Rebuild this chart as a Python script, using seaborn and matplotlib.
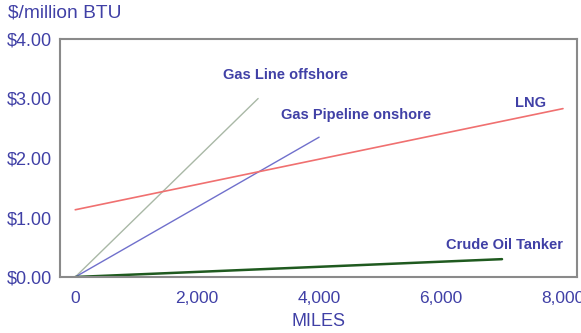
import matplotlib
matplotlib.use("Agg")
import matplotlib.pyplot as plt
import seaborn as sns
import pandas as pd
from matplotlib.ticker import MultipleLocator, FuncFormatter

sns.set_style("white")
plt.rcParams["font.family"] = ["Liberation Sans", "DejaVu Sans"]

# Transport cost vs. distance, endpoints of each straight-line series
series_names = ["Gas Line offshore", "Gas Pipeline onshore", "LNG", "Crude Oil Tanker"]
miles = {
    "Gas Line offshore": [0, 3000],
    "Gas Pipeline onshore": [0, 4000],
    "LNG": [0, 8000],
    "Crude Oil Tanker": [0, 7000],
}
cost = {
    "Gas Line offshore": [0.0, 3.00],
    "Gas Pipeline onshore": [0.0, 2.35],
    "LNG": [1.13, 2.83],
    "Crude Oil Tanker": [0.0, 0.30],
}
x_ticks = [0, 2000, 4000, 6000, 8000]
y_ticks = [0, 1, 2, 3, 4]

colors = {
    "Gas Line offshore": "#a9b8a6",
    "Gas Pipeline onshore": "#7070cc",
    "LNG": "#f07070",
    "Crude Oil Tanker": "#1f5a1f",
}
widths = {
    "Gas Line offshore": 1.0,
    "Gas Pipeline onshore": 1.0,
    "LNG": 1.2,
    "Crude Oil Tanker": 1.8,
}
text_color = "#4040a6"

rows = []
for name in series_names:
    for xv, yv in zip(miles[name], cost[name]):
        rows.append({"series": name, "miles": xv, "cost": yv})
df = pd.DataFrame(rows)

fig = plt.figure(figsize=(5.81, 3.33), dpi=100)
ax = fig.add_axes([60 / 581, 1 - 277 / 333, 517 / 581, 238 / 333])

for name in series_names:
    sns.lineplot(data=df[df.series == name], x="miles", y="cost",
                 color=colors[name], linewidth=widths[name], ax=ax,
                 legend=False, estimator=None)

ax.set_xlim(-250, 8230)
ax.set_ylim(0, 4)
ax.set_xticks(x_ticks)
ax.set_yticks(y_ticks)
ax.yaxis.set_minor_locator(MultipleLocator(0.5))
ax.xaxis.set_major_formatter(FuncFormatter(lambda v, p: f"{int(v):,}"))
ax.yaxis.set_major_formatter(FuncFormatter(lambda v, p: f"${v:.2f}"))
ax.tick_params(axis="y", which="major", direction="in", length=6, width=1,
               color="#808080", labelsize=13, labelcolor=text_color, pad=6)
ax.tick_params(axis="y", which="minor", direction="in", length=3, width=1,
               color="#808080")
ax.tick_params(axis="x", length=0, labelsize=12.5, labelcolor=text_color, pad=10)
for sp in ax.spines.values():
    sp.set_color("#8a8a8a")
    sp.set_linewidth(1.5)

ax.set_xlabel("MILES", fontsize=13, color=text_color, labelpad=5)
ax.set_ylabel("")
fig.text(8 / 581, 1 - 13 / 333, "$/million BTU", fontsize=13.8,
         color=text_color, va="center", ha="left")

label_pos = {
    "Gas Line offshore": (2420, 3.40),
    "Gas Pipeline onshore": (3380, 2.72),
    "LNG": (7220, 2.92),
    "Crude Oil Tanker": (6085, 0.54),
}
for name in series_names:
    lx, ly = label_pos[name]
    ax.text(lx, ly, name, fontsize=10.5, fontweight="bold", color=text_color,
            ha="left", va="center")

fig.savefig("out.png", dpi=100)
